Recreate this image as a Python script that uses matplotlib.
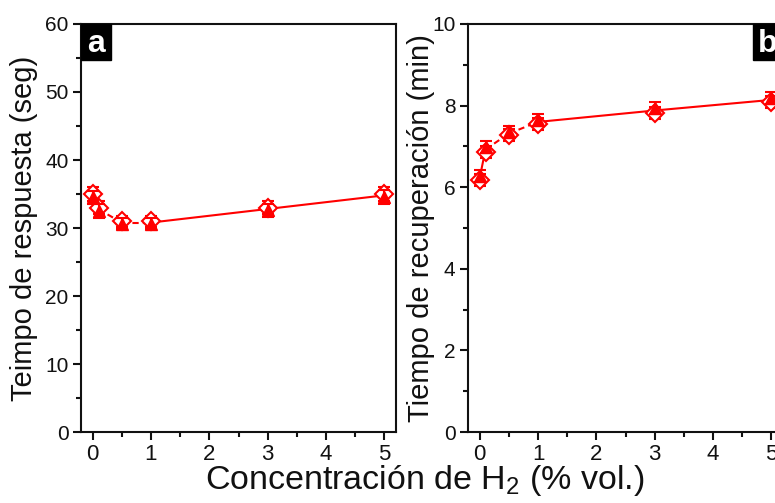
import matplotlib
matplotlib.use("Agg")
import matplotlib.pyplot as plt
from matplotlib.ticker import MultipleLocator
from matplotlib.patches import Rectangle

plt.rcParams['font.family'] = ['Liberation Sans', 'DejaVu Sans']
plt.rcParams['mathtext.default'] = 'regular'

conc = [0, 0.1, 0.5, 1, 3, 5]
# panel a: response time (s)
resp_diamond = [35.0, 33.0, 31.0, 31.0, 33.0, 35.0]
resp_triangle = [34.5, 32.5, 30.6, 30.6, 32.6, 34.6]
resp_err = [1.0, 1.0, 0.8, 0.8, 1.0, 1.0]
# panel b: recovery time (min)
rec_diamond = [6.18, 6.86, 7.28, 7.55, 7.82, 8.09]
rec_triangle = [6.27, 6.99, 7.35, 7.65, 7.94, 8.19]
rec_err = [0.15, 0.15, 0.15, 0.15, 0.15, 0.15]
seg_styles = ['-', '--', '--', '-', '-']

red = '#ff0000'
ink = '#111111'
fig = plt.figure(figsize=(7.75, 5.03), dpi=100)
W, H = 775, 503
axa = fig.add_axes([81 / W, (H - 432) / H, 315 / W, 408 / H])
axb = fig.add_axes([468 / W, (H - 432) / H, 315 / W, 408 / H])


def draw(ax, yd, yt, err, ylim, major, minor, ylabel, letter, letter_left, labx):
    for i in range(len(conc) - 1):
        ym = [(yd[i] + yt[i]) / 2, (yd[i + 1] + yt[i + 1]) / 2]
        ax.plot(conc[i:i + 2], ym, color=red, lw=1.5, ls=seg_styles[i],
                dashes=(3, 2) if seg_styles[i] == '--' else (None, None), zorder=2)
    ax.errorbar(conc, yd, yerr=err, fmt='D', color=red, ms=9, mfc='white', mec=red,
                mew=1.5, capsize=4.5, elinewidth=1.5, capthick=1.5, zorder=3)
    ax.errorbar(conc, yt, yerr=err, fmt='^', color=red, ms=8, mfc=red, mec=red,
                capsize=4.5, elinewidth=1.5, capthick=1.5, zorder=4)
    ax.set_xlim(-0.2, 5.2)
    ax.set_ylim(*ylim)
    ax.xaxis.set_major_locator(MultipleLocator(1))
    ax.xaxis.set_minor_locator(MultipleLocator(0.5))
    ax.yaxis.set_major_locator(MultipleLocator(major))
    ax.yaxis.set_minor_locator(MultipleLocator(minor))
    ax.tick_params(which='both', direction='out', width=1.5, colors=ink)
    ax.tick_params(axis='x', labelsize=16)
    ax.tick_params(axis='y', labelsize=15)
    ax.tick_params(which='major', length=6, pad=3)
    ax.tick_params(which='minor', length=3.5)
    for s in ax.spines.values():
        s.set_linewidth(1.5)
        s.set_color(ink)
    ax.set_ylabel(ylabel, fontsize=21, color=ink)
    ax.yaxis.set_label_coords(labx, 0.5)
    bw, bh = 30 / 315, 36 / 408
    x0 = 0.0 if letter_left else 1.0 - bw
    ax.add_patch(Rectangle((x0, 1.0 - bh), bw, bh, transform=ax.transAxes,
                           fc='black', ec='black', zorder=5, clip_on=False))
    ax.text(x0 + bw / 2, 1.0 - bh / 2 - 0.004, letter, transform=ax.transAxes,
            ha='center', va='center', fontsize=23, fontweight='bold',
            color='white', zorder=6)


draw(axa, resp_diamond, resp_triangle, resp_err, (0, 60), 10, 5,
     'Teimpo de respuesta (seg)', 'a', True, (38 - 81) / 315)
draw(axb, rec_diamond, rec_triangle, rec_err, (0, 10), 2, 1,
     'Tiempo de recuperación (min)', 'b', False, (435 - 468) / 315)

fig.text(425 / W, 1 - 481 / H, 'Concentración de H$_2$ (% vol.)', ha='center',
         va='center', fontsize=24.5, color=ink)

fig.savefig('out.png', dpi=100)
